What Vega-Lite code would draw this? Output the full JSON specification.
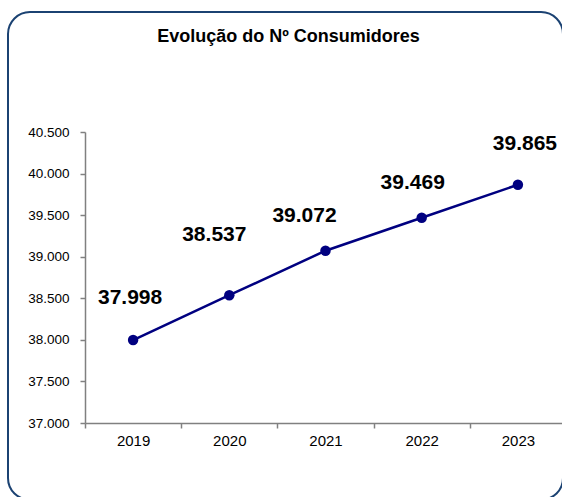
{
  "$schema": "https://vega.github.io/schema/vega-lite/v6.json",
  "autosize": "none",
  "width": 555,
  "height": 488,
  "padding": {"left": 8, "top": 12, "right": 0, "bottom": 0},
  "background": "white",
  "config": {
    "font": "Liberation Sans",
    "view": {"stroke": "#1B4272", "strokeWidth": 2, "cornerRadius": 22}
  },
  "title": {
    "text": "Evolução do Nº Consumidores",
    "font": "Liberation Sans",
    "fontSize": 18,
    "fontWeight": "bold",
    "color": "#000000",
    "anchor": "middle",
    "frame": "group",
    "baseline": "middle",
    "dx": 3,
    "offset": -43
  },
  "data": {
    "values": [
      {"year": "2019", "value": 37998, "label": "37.998"},
      {"year": "2020", "value": 38537, "label": "38.537"},
      {"year": "2021", "value": 39072, "label": "39.072"},
      {"year": "2022", "value": 39469, "label": "39.469"},
      {"year": "2023", "value": 39865, "label": "39.865"}
    ]
  },
  "encoding": {
    "x": {
      "field": "year",
      "type": "ordinal",
      "scale": {"type": "band", "range": [77, 558], "paddingInner": 0, "paddingOuter": 0},
      "axis": {
        "title": null,
        "labelAngle": 0,
        "offset": -77,
        "tickBand": "extent",
        "tickSize": 5,
        "tickColor": "#808080",
        "domainColor": "#808080",
        "tickWidth": 1.5,
        "domainWidth": 1.5,
        "labelFontSize": 15,
        "labelColor": "#000000",
        "labelPadding": 5,
        "labelFont": "Liberation Sans"
      }
    },
    "y": {
      "field": "value",
      "type": "quantitative",
      "scale": {"domain": [37000, 40500], "range": [411, 120], "nice": false, "zero": false},
      "axis": {
        "title": null,
        "offset": -77,
        "values": [37000, 37500, 38000, 38500, 39000, 39500, 40000, 40500],
        "labelExpr": "replace(format(datum.value, ',.0f'), ',', '.')",
        "grid": false,
        "tickSize": 5,
        "tickColor": "#808080",
        "domainColor": "#808080",
        "tickWidth": 1.5,
        "domainWidth": 1.5,
        "labelFontSize": 13.5,
        "labelColor": "#000000",
        "labelPadding": 11,
        "labelFont": "Liberation Sans"
      }
    }
  },
  "layer": [
    {"mark": {"type": "line", "color": "#000080", "strokeWidth": 2.5}},
    {"mark": {"type": "point", "filled": true, "color": "#000080", "opacity": 1, "size": 110}},
    {
      "transform": [{"filter": "datum.year == '2019'"}],
      "mark": {"type": "text", "fontSize": 21, "fontWeight": "bold", "color": "#000000", "baseline": "middle", "dx": -3, "dy": -42},
      "encoding": {"text": {"field": "label"}}
    },
    {
      "transform": [{"filter": "datum.year == '2020'"}],
      "mark": {"type": "text", "fontSize": 21, "fontWeight": "bold", "color": "#000000", "baseline": "middle", "dx": -15, "dy": -60},
      "encoding": {"text": {"field": "label"}}
    },
    {
      "transform": [{"filter": "datum.year == '2021'"}],
      "mark": {"type": "text", "fontSize": 21, "fontWeight": "bold", "color": "#000000", "baseline": "middle", "dx": -21, "dy": -35},
      "encoding": {"text": {"field": "label"}}
    },
    {
      "transform": [{"filter": "datum.year == '2022'"}],
      "mark": {"type": "text", "fontSize": 21, "fontWeight": "bold", "color": "#000000", "baseline": "middle", "dx": -9, "dy": -35},
      "encoding": {"text": {"field": "label"}}
    },
    {
      "transform": [{"filter": "datum.year == '2023'"}],
      "mark": {"type": "text", "fontSize": 21, "fontWeight": "bold", "color": "#000000", "baseline": "middle", "dx": 7, "dy": -41},
      "encoding": {"text": {"field": "label"}}
    }
  ]
}
